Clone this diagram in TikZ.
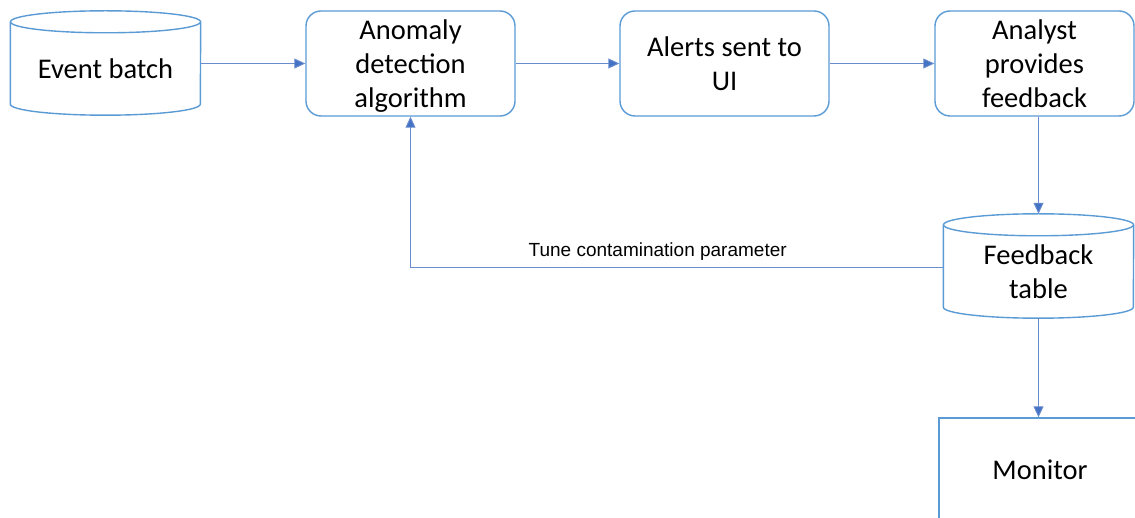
\documentclass[tikz,border=0pt]{standalone}
\usepackage{fontspec}
\setmainfont{Carlito}
\newfontfamily\labelfont{Liberation Sans}
\usepackage{tikz}
\usetikzlibrary{arrows.meta}

\definecolor{boxblue}{RGB}{91,155,213}
\definecolor{tipblue}{RGB}{68,114,196}
\definecolor{lineblue}{RGB}{105,140,205}

% outline of a store: side walls, bottom arc and top lid round a named node
\newcommand{\drawstore}[1]{%
	\draw[outline] (#1.north west) -- ([yshift=11pt]#1.south west)
		arc[start angle=180, end angle=360, x radius=95pt, y radius=11pt] -- (#1.north east);
	\draw[outline] (#1.north) ellipse[x radius=95pt, y radius=11pt];}

\begin{document}
\begin{tikzpicture}[x=1pt,y=1pt,
		outline/.style={draw=boxblue, line width=1.4pt},
		box/.style={outline, rounded corners=15pt, fill=white,
			minimum width=209pt, minimum height=105pt, align=center, text depth=0pt,
			font=\fontsize{28.5}{34}\selectfont},
		store/.style={inner sep=0pt, minimum width=190pt, minimum height=93pt, align=center,
			text depth=0pt, font=\fontsize{28.5}{34}\selectfont},
		flow/.style={draw=lineblue, line width=0.9pt, -{Triangle[length=11pt,width=10pt,fill=tipblue]}}]
		\clip (0,0) rectangle (1135,-518);
		\fill[white] (0,0) rectangle (1135,-518);
		
		\node[store] (batch) at (105.5, -68.5) {Event batch};
		\node[box] (detect) at (410.5, -63.5) {Anomaly\\detection\\algorithm};
		\node[box] (alerts) at (724.5, -63.5) {Alerts sent to\\UI};
		\node[box, minimum width=199pt] (analyst) at (1034.5, -63.5) {Analyst\\provides\\feedback};
		\node[store] (table) at (1038.5, -271.5) {Feedback\\table};
		\node[outline, minimum width=202pt, minimum height=104pt,
			font=\fontsize{28.5}{34}\selectfont] (monitor) at (1040, -470) {Monitor};
		\drawstore{batch}
		\drawstore{table}
		
		\draw[flow] (batch.east |- detect.west) -- (detect.west);
		\draw[flow] (detect.east) -- (alerts.west);
		\draw[flow] (alerts.east) -- (analyst.west);
		\draw[flow] (analyst.south -| table.north) -- ([yshift=11pt]table.north);
		\draw[flow] ([yshift=4pt]table.west) -| node[pos=0.268, above=3pt, font=\labelfont\fontsize{19}{21}\selectfont, text=black] {Tune contamination parameter} (detect.south);
		\draw[flow] (table.south) -- (table.south |- monitor.north);
\end{tikzpicture}
\end{document}
